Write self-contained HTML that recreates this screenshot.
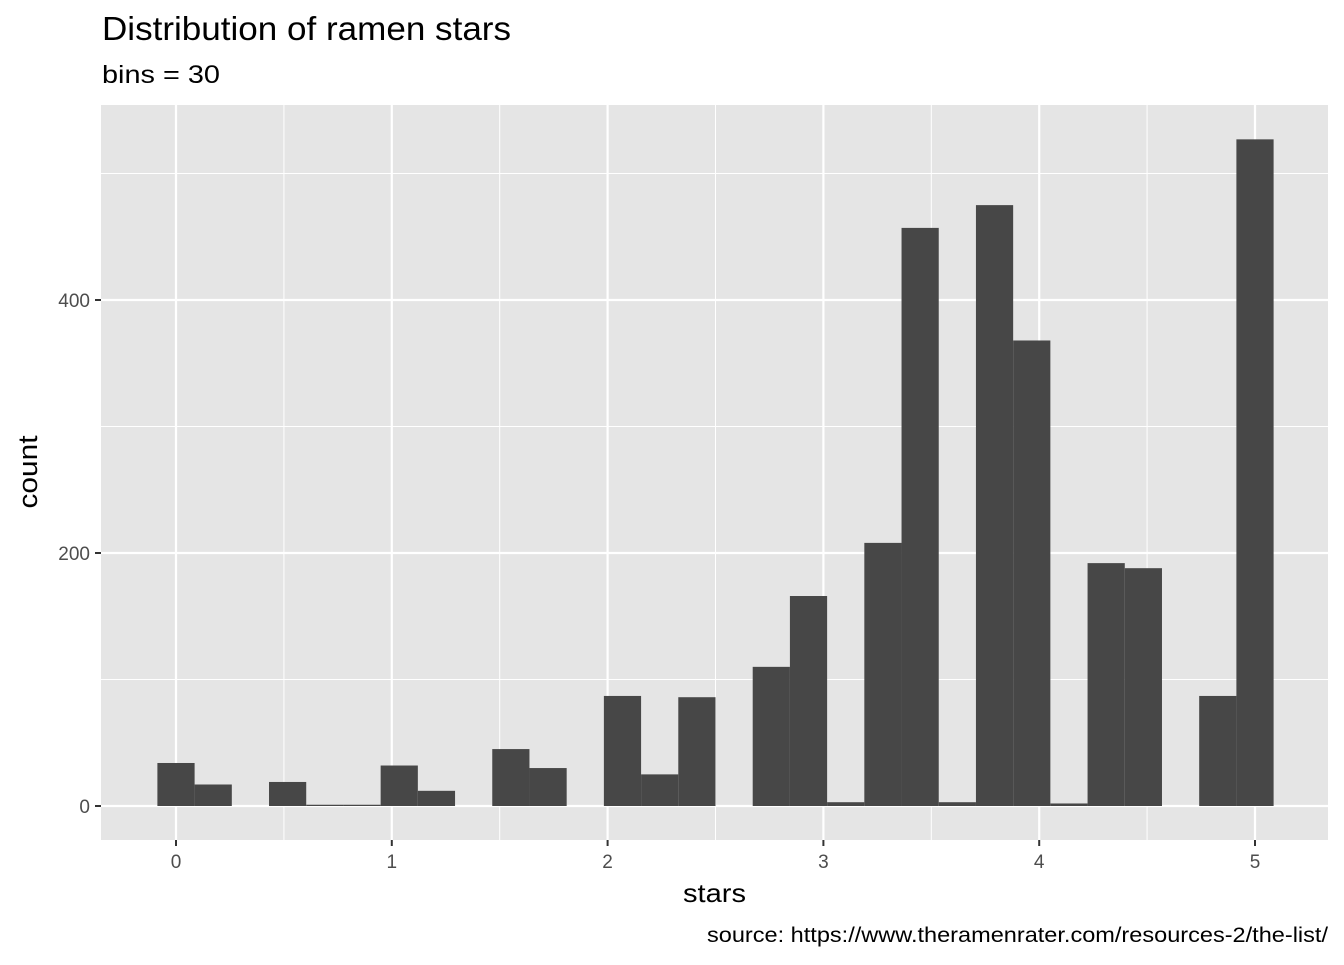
<!DOCTYPE html>
<html><head><meta charset="utf-8">
<style>
body{margin:0;background:#fff;}
svg text{font-family:"Liberation Sans",Arial,sans-serif;}
</style></head>
<body>
<svg id="chart" width="1344" height="960" xmlns="http://www.w3.org/2000/svg">
<text x="102" y="40" font-size="33" textLength="409" lengthAdjust="spacingAndGlyphs" fill="#000">Distribution of ramen stars</text>
<text x="102" y="83" font-size="25" textLength="118" lengthAdjust="spacingAndGlyphs" fill="#000">bins = 30</text>
<rect x="101" y="105" width="1227" height="735" fill="#e5e5e5"/>
<g id="grid"></g>
<g id="bars"></g>
<g id="axes"></g>
<text x="714.5" y="902" font-size="26" textLength="63" lengthAdjust="spacingAndGlyphs" text-anchor="middle">stars</text>
<text transform="translate(37,472) rotate(-90)" font-size="27" textLength="73" lengthAdjust="spacingAndGlyphs" text-anchor="middle">count</text>
<text x="707" y="942" font-size="21" textLength="621" lengthAdjust="spacingAndGlyphs">source: https://www.theramenrater.com/resources-2/the-list/</text>
</svg>
<script>
const counts=[34,17,0,19,1,1,32,12,0,45,30,0,87,25,86,0,110,166,3,208,457,3,475,368,2,192,188,0,87,527];
const xTicks=[0,1,2,3,4,5];
const xMinor=[0.5,1.5,2.5,3.5,4.5];
const yTicks=[0,200,400];
const yMinor=[100,300,500];
const binWidth=5/29;
const X=v=>176+v*215.8;
const Y=v=>806-v*1.265;
const NS="http://www.w3.org/2000/svg";
function mk(tag,attrs,parent){const e=document.createElementNS(NS,tag);for(const k in attrs)e.setAttribute(k,attrs[k]);parent.appendChild(e);return e;}
const grid=document.getElementById('grid'),bars=document.getElementById('bars'),axes=document.getElementById('axes');
yMinor.forEach(v=>{const l=mk('line',{x1:101,x2:1328,y1:Y(v),y2:Y(v),stroke:'#fff','stroke-width':1},grid);

});
xMinor.forEach(v=>{const l=mk('line',{x1:X(v),x2:X(v),y1:105,y2:840,stroke:'#fff','stroke-width':1},grid);

});
yTicks.forEach(v=>{const l=mk('line',{x1:101,x2:1328,y1:Y(v),y2:Y(v),stroke:'#fff','stroke-width':2.2},grid);


const t=mk('line',{x1:95,x2:101,y1:Y(v),y2:Y(v),stroke:'#333','stroke-width':2},axes);


const tx=mk('text',{x:90,y:Y(v)+7,'font-size':19,fill:'#4d4d4d','text-anchor':'end'},axes);tx.textContent=v;

});
xTicks.forEach(v=>{const l=mk('line',{x1:X(v),x2:X(v),y1:105,y2:840,stroke:'#fff','stroke-width':2.2},grid);


const t=mk('line',{x1:X(v),x2:X(v),y1:840,y2:846,stroke:'#333','stroke-width':2},axes);


const tx=mk('text',{x:X(v),y:868,'font-size':19,fill:'#4d4d4d','text-anchor':'middle'},axes);tx.textContent=v;

});
counts.forEach((c,i)=>{const c0=i*binWidth;const x0=X(c0-binWidth/2),x1=X(c0+binWidth/2);
const r=mk('rect',{x:x0,y:Y(c),width:x1-x0,height:Y(0)-Y(c),fill:'#474747'},bars);

});
</script>
</body></html>
